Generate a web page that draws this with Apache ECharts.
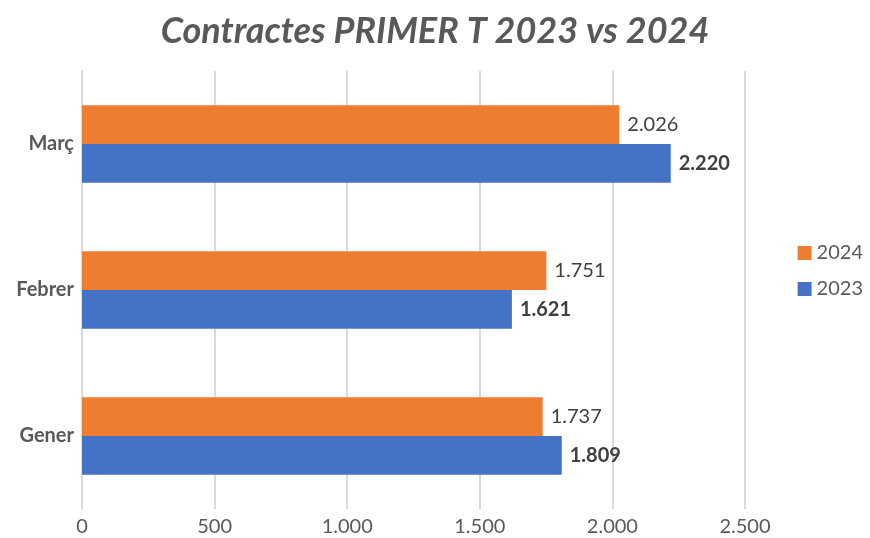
<!DOCTYPE html>
<html><head><meta charset="utf-8">
<script src="https://cdn.jsdelivr.net/npm/echarts@6/dist/echarts.min.js"></script>
<style>html,body{margin:0;padding:0;background:#fff}#c{width:870px;height:538px}</style>
</head><body><div id="c"></div>
<script>
const categories = ['Gener', 'Febrer', 'Març'];
const values2023 = [1809, 1621, 2220];
const values2024 = [1737, 1751, 2026];
const xTicks = [0, 500, 1000, 1500, 2000, 2500];

function fmt(v){ return String(v).replace(/\B(?=(\d{3})+(?!\d))/g, '.'); }
const font = 'Lato, "Open Sans", sans-serif';
const chart = echarts.init(document.getElementById('c'));
chart.setOption({
  animation: false,
  title: {
    text: 'Contractes PRIMER T 2023 vs 2024',
    left: 'center', top: 8,
    textStyle: { fontFamily: font, fontSize: 36, fontWeight: 'bold', fontStyle: 'italic', color: '#595959' }
  },
  legend: {
    orient: 'vertical', right: 2, top: 238,
    itemWidth: 14, itemHeight: 14, itemGap: 16,
    icon: 'rect',
    data: ['2024', '2023'],
    textStyle: { fontFamily: font, fontSize: 20, color: '#595959' }
  },
  grid: { left: 82, right: 125, top: 71, bottom: 29, containLabel: false },
  xAxis: {
    type: 'value', min: xTicks[0], max: xTicks[xTicks.length-1], interval: 500,
    axisLine: { show: false }, axisTick: { show: false },
    splitLine: { lineStyle: { color: '#d9d9d9', width: 2 } },
    axisLabel: { formatter: v => fmt(v), fontFamily: font, fontSize: 20, color: '#595959', margin: 8 }
  },
  yAxis: {
    type: 'category', data: categories,
    axisLine: { show: true, lineStyle: { color: '#d9d9d9', width: 2 } },
    axisTick: { show: false },
    axisLabel: { fontFamily: font, fontSize: 20, fontWeight: 'bold', color: '#595959', margin: 8 }
  },
  series: [
    { name: '2024', type: 'bar', data: values2024, barGap: '0%', barCategoryGap: '47%',
      itemStyle: { color: '#ED7D31' },
      label: { show: true, position: 'right', distance: 8, formatter: p => fmt(p.value),
        fontFamily: font, fontSize: 20, color: '#404040' } },
    { name: '2023', type: 'bar', data: values2023, barGap: '0%', barCategoryGap: '47%',
      itemStyle: { color: '#4472C4' },
      label: { show: true, position: 'right', distance: 8, formatter: p => fmt(p.value),
        fontFamily: font, fontSize: 20, fontWeight: 'bold', color: '#404040' } }
  ]
});
</script></body></html>
